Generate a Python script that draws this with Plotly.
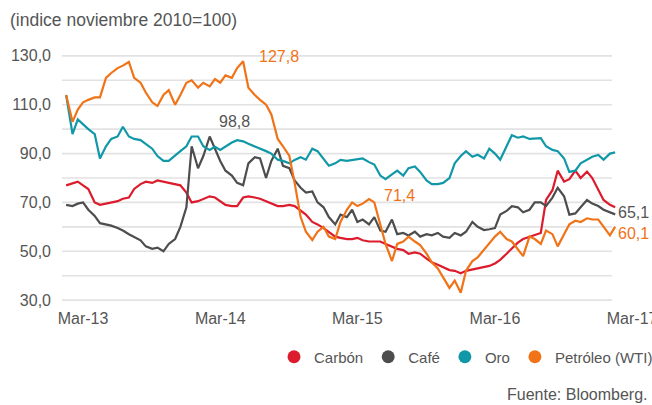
import pandas as pd
import plotly.graph_objects as go

# semi-monthly observation dates
dates = pd.date_range("2013-01-15", periods=97, freq="SMS")

carbon = [77, 78, 78.5, 77, 75.5, 70, 69, 69.5, 70, 70.5, 71.5, 72, 75.5, 77.5, 78.5, 78, 79, 78.5, 78, 77.5,
          77, 74, 70, 70.5, 71.5, 72.5, 72, 70.5, 69, 68.5, 68.5, 72, 72.5, 72, 71.5, 70.5, 69.5, 68.5, 68.5, 69,
          68.5, 66.5, 65, 62, 61, 59.5, 58, 56, 55.5, 55, 55, 55.5, 54.5, 54, 54, 54, 53, 52, 51, 50.5,
          49, 49.5, 49, 47, 45.5, 44.5, 43.6, 42.3, 42, 41, 42, 42.5, 43, 43.6, 44, 45, 46.5, 49, 51, 53.5,
          55, 56, 56.5, 57.5, 71, 75, 83, 78.5, 79.5, 83, 80, 82.6, 80, 75, 71, 69, 68]

cafe = [69, 68.5, 69.5, 70, 67, 64.5, 61.5, 61, 60.5, 59.5, 58.5, 57, 56, 54.5, 52, 51, 51.5, 50, 53, 55,
        60, 68, 93, 84, 89, 97, 92, 87, 83, 81, 78, 77, 86, 88.5, 88, 80, 87, 92, 85, 84,
        79, 76, 74, 74.5, 70, 68, 64, 61, 65, 64, 67, 62, 63, 61, 64, 58.5, 58, 63, 57, 57.5,
        56.5, 58, 56, 57, 56.5, 57.5, 56, 55.5, 57.5, 56.5, 58, 62, 60, 58.7, 59, 59.5, 65, 66.5, 68.5, 68,
        66, 67, 70, 70, 68.5, 72, 76, 72.5, 65, 65.5, 68, 71, 69.5, 68.5, 67, 66, 65.1]

oro = [114, 98, 104, 102, 100, 98, 88, 93, 96, 97, 101, 97, 96, 95.5, 94, 92, 89, 87, 87, 89,
       91, 93, 97, 97, 93, 91.5, 92.8, 91.5, 93, 94.5, 95.5, 95, 94, 93, 92, 91, 90, 87.5, 87, 86,
       87.4, 88.5, 87.5, 92, 91, 88, 85, 86, 87.4, 87, 87.4, 87.5, 88, 86.5, 85.5, 81, 79.5, 81.5, 83, 81,
       84, 84.7, 82.5, 79, 77.5, 77.5, 78, 80, 86, 89, 91, 88.7, 89.5, 88, 92, 90, 87.5, 93, 97.5, 96.5,
       97, 96, 96, 96.3, 93, 91.5, 91, 88, 82.5, 83, 86, 87.5, 88.7, 89.4, 87.5, 90, 90.5]

petroleo = [114, 103, 108, 111, 112, 113, 113, 121, 123, 125, 126, 127.5, 121, 119, 115, 111, 109.5, 114, 116, 110,
            114, 119, 120, 117, 119, 117.5, 120.5, 119, 122, 121, 125, 127.8, 117, 114, 112, 110, 106, 96, 93, 89,
            78, 64, 58, 54.6, 58, 60, 56, 55, 62, 67, 70, 68.5, 69.5, 71.4, 70, 61, 53, 46, 53, 54,
            56, 54, 52.5, 49, 45.5, 43, 39.6, 35, 38, 33, 42, 46, 47.5, 50.5, 53, 56, 58, 55, 54, 51,
            48, 56, 55, 53, 58.5, 57, 52, 57, 61, 62.5, 62, 63.5, 63, 63, 60, 56.5, 60.1]

series_names = ["Carbón", "Café", "Oro", "Petróleo (WTI)"]
series_values = [carbon, cafe, oro, petroleo]
series_colors = ["#dc1c2c", "#4d4d4d", "#1098a8", "#f07318"]

x_tick_vals = ["2013-03-01", "2014-03-01", "2015-03-01", "2016-03-01", "2017-03-01"]
x_tick_text = ["Mar-13", "Mar-14", "Mar-15", "Mar-16", "Mar-17"]
y_tick_vals = [30, 50, 70, 90, 110, 130]
y_tick_text = ["30,0", "50,0", "70,0", "90,0", "110,0", "130,0"]
grid_vals = [30, 40, 50, 60, 70, 80, 90, 100, 110, 120, 130]

FONT = "Liberation Sans, Arial, sans-serif"
GREY = "#555555"

fig = go.Figure()
for name, vals, col in zip(series_names, series_values, series_colors):
    fig.add_trace(go.Scatter(x=dates, y=vals, mode="lines", name=name,
                             line=dict(color=col, width=2.2), showlegend=False,
                             hoverinfo="skip"))
for name, col in zip(series_names, series_colors):
    fig.add_trace(go.Scatter(x=[None], y=[None], mode="markers", name=name,
                             marker=dict(color=col, size=13), showlegend=True))

shapes = [dict(type="line", xref="paper", yref="y", x0=0, x1=0.9516, y0=v, y1=v,
               line=dict(color="#e2e2e2", width=1.6), layer="below") for v in grid_vals]

annotations = [
    dict(x="2014-08-05", y=129.6, text="127,8", font=dict(color="#f07318", size=16)),
    dict(x="2014-04-07", y=103, text="98,8", font=dict(color=GREY, size=16)),
    dict(x="2015-06-20", y=73, text="71,4", font=dict(color="#f07318", size=16)),
    dict(x="2017-03-06", y=66, text="65,1", font=dict(color=GREY, size=16)),
    dict(x="2017-03-06", y=57.4, text="60,1", font=dict(color="#f07318", size=16)),
]
for a in annotations:
    a.update(xref="x", yref="y", showarrow=False)
annotations.append(dict(xref="paper", yref="paper", x=(650 - 62) / 578, y=(305 - 394) / 254,
                        xanchor="right", yanchor="middle", text="Fuente: Bloomberg.",
                        showarrow=False, font=dict(color=GREY, size=16)))

fig.update_layout(
    width=652, height=405,
    margin=dict(l=62, r=12, t=51, b=100, autoexpand=False),
    paper_bgcolor="white", plot_bgcolor="white",
    font=dict(family=FONT, color=GREY, size=15),
    title=dict(text="(indice noviembre 2010=100)", xref="container", yref="container",
               x=10 / 652, y=1 - 20 / 405, xanchor="left", yanchor="middle",
               font=dict(size=17.5, color=GREY, family=FONT)),
    xaxis=dict(type="date", range=["2013-01-04", "2017-03-22"], tickvals=x_tick_vals,
               ticktext=x_tick_text, showgrid=False, zeroline=False, showline=False,
               ticks="", tickfont=dict(size=16, color=GREY), ticklabelstandoff=2,
               ticklabeloverflow="allow", automargin=False),
    yaxis=dict(range=[28, 132], tickvals=y_tick_vals, ticktext=y_tick_text,
               showgrid=False, zeroline=False, showline=False, ticks="",
               tickfont=dict(size=16, color=GREY), ticklabelstandoff=10, automargin=False),
    legend=dict(orientation="h", x=(274 - 62) / 578, y=(305 - 357) / 254,
                xanchor="left", yanchor="middle", font=dict(size=15, color=GREY),
                itemwidth=30, bgcolor="rgba(0,0,0,0)"),
    shapes=shapes,
    annotations=annotations,
)

fig.write_html("out.html", config={"displayModeBar": False},
               post_script="document.body.style.margin='0';document.body.style.overflow='hidden';")
